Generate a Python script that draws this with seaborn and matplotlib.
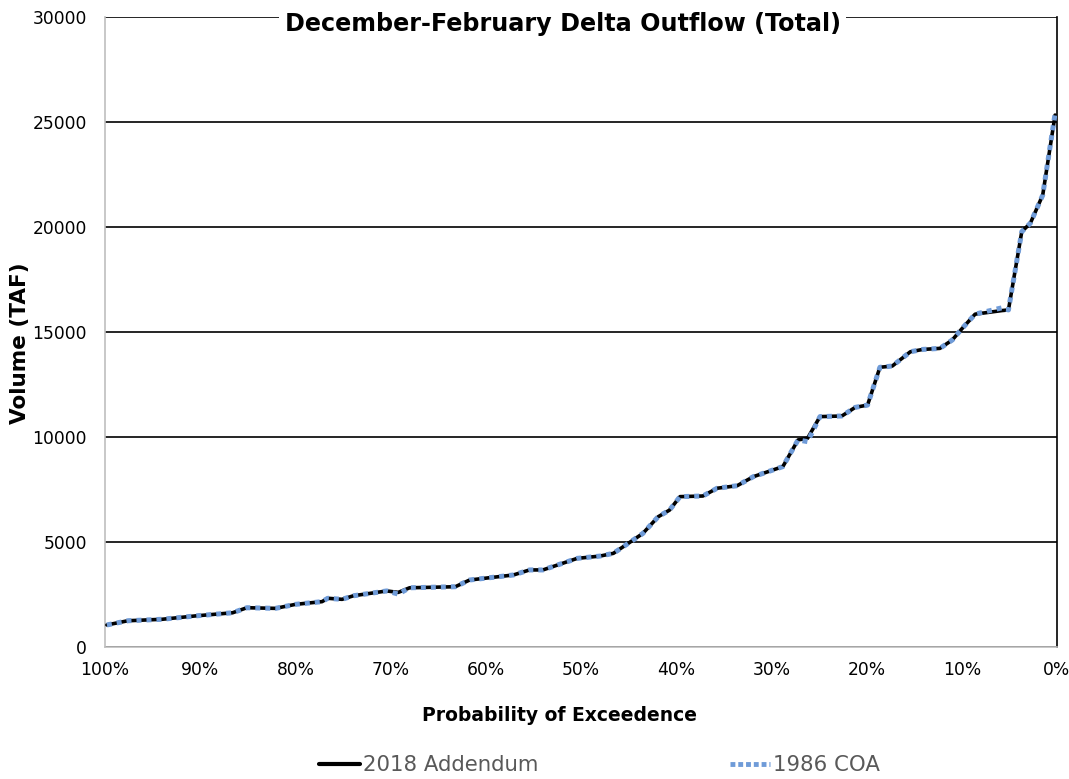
import matplotlib
matplotlib.use("Agg")
import matplotlib.pyplot as plt
import seaborn as sns
import pandas as pd
from matplotlib.lines import Line2D

# ---- data ----
exceedance = [99.8, 97.6, 94.0, 90.5, 86.6, 85.1, 82.1, 80.0, 77.2, 76.6, 75.1, 73.9,
              70.4, 69.2, 68.0, 63.2, 61.7, 57.1, 55.4, 54.0, 50.4, 48.0, 46.6, 44.5,
              43.5, 41.9, 40.7, 39.6, 37.2, 35.7, 33.6, 31.9, 28.8, 27.2, 26.2, 24.9,
              22.6, 21.2, 19.9, 18.6, 17.3, 15.4, 14.1, 12.3, 11.0, 10.0, 8.6, 5.8,
              5.1, 3.7, 2.8, 1.5, 0.2]
addendum_2018 = [1050, 1250, 1320, 1480, 1630, 1870, 1840, 2030, 2160, 2320, 2270, 2440,
                 2670, 2600, 2820, 2870, 3190, 3430, 3670, 3670, 4220, 4330, 4460, 5100,
                 5410, 6200, 6520, 7160, 7190, 7560, 7680, 8110, 8590, 9860, 9940, 10970,
                 11000, 11410, 11520, 13320, 13380, 14060, 14170, 14220, 14620, 15150, 15850, 16020,
                 16050, 19780, 20180, 21520, 25330]
coa_1986 = [1050, 1250, 1320, 1480, 1630, 1870, 1840, 2030, 2160, 2320, 2270, 2440,
            2670, 2520, 2820, 2870, 3190, 3430, 3670, 3670, 4220, 4330, 4460, 5100,
            5410, 6200, 6520, 7160, 7190, 7560, 7680, 8110, 8590, 9860, 9780, 10970,
            11000, 11410, 11520, 13320, 13380, 14060, 14170, 14220, 14620, 15150, 15850, 16150,
            16050, 19780, 20180, 21520, 25400]
x_ticks = [100, 90, 80, 70, 60, 50, 40, 30, 20, 10, 0]
x_tick_labels = ["100%", "90%", "80%", "70%", "60%", "50%", "40%", "30%", "20%", "10%", "0%"]
y_ticks = [0, 5000, 10000, 15000, 20000, 25000, 30000]
series_names = ["2018 Addendum", "1986 COA"]
title = "December-February Delta Outflow (Total)"

sns.set_theme(style="white")
plt.rcParams["font.family"] = ["DejaVu Sans"]

df = pd.DataFrame({"p": exceedance, "a": addendum_2018, "c": coa_1986})

fig = plt.figure(figsize=(10.69, 7.79), dpi=100)
ax = fig.add_axes([105/1069, 1 - 647/779, (1057-105)/1069, (647-17)/779])

BLACK = "#000000"
BLUE = "#6F9BD8"

sns.lineplot(data=df, x="p", y="a", ax=ax, color=BLACK, lw=2.6, sort=False,
             estimator=None, zorder=3)
sns.lineplot(data=df, x="p", y="c", ax=ax, color=BLUE, lw=3.6, sort=False,
             estimator=None, zorder=4, linestyle=(0, (1.0, 1.0)))

ax.set_xlim(100, 0)
ax.set_ylim(0, 30000)
ax.set_xticks(x_ticks)
ax.set_xticklabels(x_tick_labels)
ax.set_yticks(y_ticks)
ax.set_yticklabels([str(v) for v in y_ticks])
ax.tick_params(axis="both", length=0, labelsize=12.3, colors="#000000")
ax.tick_params(axis="x", pad=10)
ax.tick_params(axis="y", pad=13)

ax.yaxis.grid(True, color="#000000", lw=1.2)
ax.set_axisbelow(True)
ax.spines["top"].set_visible(False)
ax.spines["left"].set_color("#BFBFBF")
ax.spines["bottom"].set_color("#BFBFBF")
ax.spines["left"].set_linewidth(1.2)
ax.spines["bottom"].set_linewidth(1.2)
ax.spines["right"].set_color("#000000")
ax.spines["right"].set_linewidth(1.2)

ax.set_xlabel("Probability of Exceedence", fontsize=13.5, fontweight="bold", color="#000000")
ax.xaxis.set_label_coords(0.477, -0.1095)
ax.xaxis.label.set_va("center")
ax.set_ylabel("Volume (TAF)", fontsize=15.5, fontweight="bold", color="#000000")
ax.yaxis.set_label_coords(-0.0893, 0.4825)
ax.yaxis.label.set_va("center")

ax.text(0.481, 0.989, title, transform=ax.transAxes, ha="center", va="center",
        fontsize=17.2, fontweight="bold", zorder=10, color="#000000",
        bbox=dict(facecolor="white", edgecolor="none", pad=4))

handles = [Line2D([], [], color=BLACK, lw=3),
           Line2D([], [], color=BLUE, lw=3.5, linestyle=(0, (1.0, 0.6)))]
leg = fig.legend(handles, series_names, loc="center", bbox_to_anchor=(0.561, 0.018),
                 ncol=2, frameon=False, fontsize=15.3, handlelength=1.9,
                 handletextpad=0.15, columnspacing=9)
for t in leg.get_texts():
    t.set_color("#595959")

fig.savefig("out.png", dpi=100)
